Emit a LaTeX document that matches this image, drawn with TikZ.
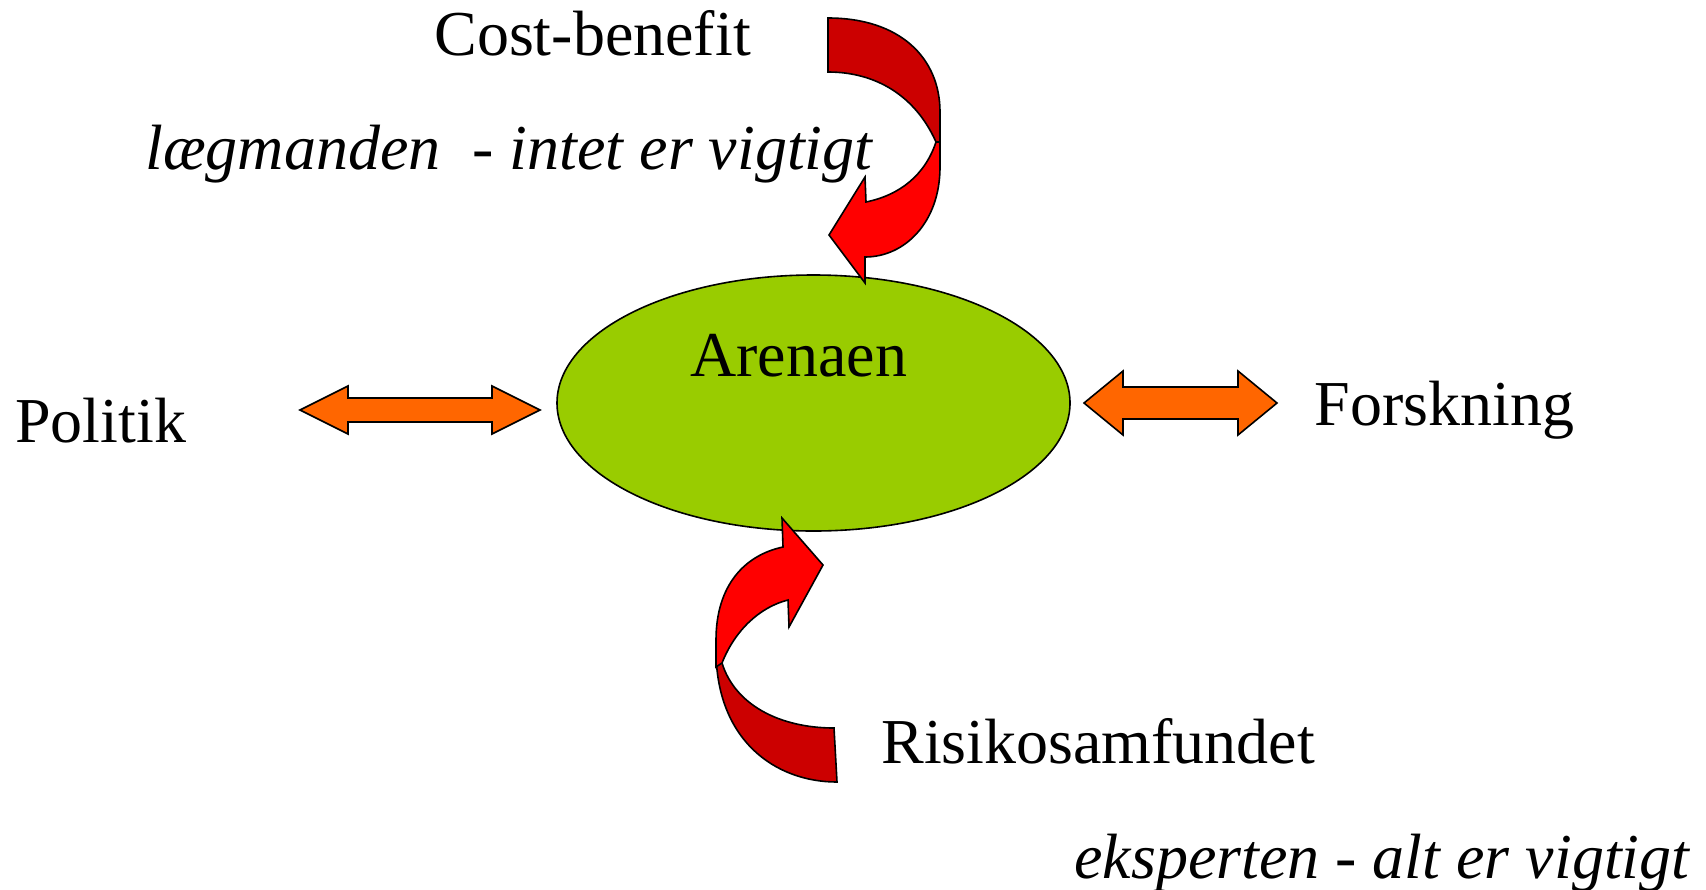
\documentclass[tikz,border=0pt]{standalone}
\usepackage{fontspec}
\setmainfont{Liberation Serif}[ItalicFont={Liberation Serif Italic}]
\usetikzlibrary{shapes.geometric}
\definecolor{arenagreen}{HTML}{99CC00}
\definecolor{ribbondark}{HTML}{CC0000}
\definecolor{ribbonlight}{HTML}{FF0000}
\definecolor{arroworange}{HTML}{FF6600}
\begin{document}
\begin{tikzpicture}[x=0.5pt,y=-0.5pt,
  lbl/.style={anchor=base west, inner sep=0pt, font=\fontsize{32}{38}\selectfont},
  ilbl/.style={anchor=base west, inner sep=0pt, font=\fontsize{32}{38}\selectfont\itshape},
  shapeline/.style={draw=black, line width=0.8pt, line join=miter},
  dbl/.style={shapeline, fill=arroworange},
  back/.style={shapeline, fill=ribbondark},
  front/.style={shapeline, fill=ribbonlight}]
\useasboundingbox (0,0) rectangle (1706,889);

% central ellipse
\node[ellipse, draw=black, line width=0.8pt, fill=arenagreen, inner sep=0pt, outer sep=0pt,
      minimum width=256.5pt, minimum height=128pt] (arena) at (813.5,403) {};
\node[lbl] (arenatxt) at (690,376) {Arenaen};

% labels
\node[lbl] (cost) at (434,55) {Cost-benefit};
\node[ilbl] (laeg) at (145,169) {lægmanden\ \ - intet er vigtigt};
\node[lbl] (politik) at (15,442) {Politik};
\node[lbl] (forsk) at (1314,425) {Forskning};
\node[lbl] (risiko) at (881,763) {Risikosamfundet};
\node[ilbl] (ekspert) at (1074,878) {eksperten - alt er vigtigt};

% left double arrow
\draw[dbl] (300,410) -- (348,386) -- (348,398) -- (492,398) -- (492,386) -- (540,410)
  -- (492,434) -- (492,422) -- (348,422) -- (348,434) -- cycle;
% right double arrow
\draw[dbl] (1084,403) -- (1123,371) -- (1123,387) -- (1238,387) -- (1238,371) -- (1277,403)
  -- (1238,435) -- (1238,419) -- (1123,419) -- (1123,435) -- cycle;

% top curved arrow: back part
\draw[back] (828,18) .. controls (900,18) and (940,58) .. (940,112) -- (940,150) -- (936,142)
  .. controls (915,95) and (875,72) .. (828,72) -- cycle;
% top curved arrow: front part with head
\draw[front] (940,142) -- (940,167) .. controls (940,222) and (905,257) .. (865,257) -- (865,283)
  -- (829,235) -- (865,177) -- (866,202) .. controls (900,195) and (925,175) .. (936,142) -- cycle;

% bottom curved arrow: back part
\draw[back] (716,650) .. controls (716,740) and (775,782) .. (837,782) -- (834,728)
  .. controls (780,728) and (735,705) .. (722,663) -- cycle;
% bottom curved arrow: front part with head
\draw[front] (716,667) -- (716,640) .. controls (716,585) and (745,555) .. (783,547) -- (782,518)
  -- (823,565) -- (789,627) -- (788,600) .. controls (760,607) and (735,630) .. (722,663) -- cycle;
\end{tikzpicture}
\end{document}
